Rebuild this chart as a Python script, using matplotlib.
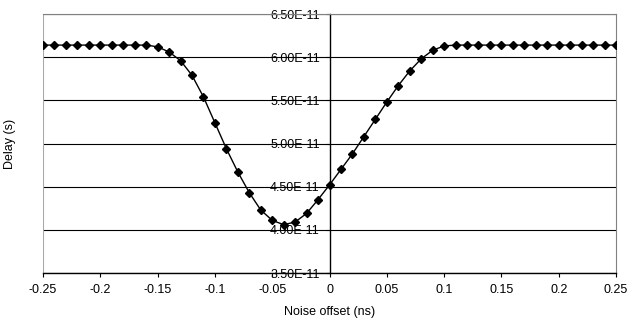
import matplotlib
matplotlib.use('Agg')
import matplotlib.pyplot as plt
from matplotlib.ticker import FuncFormatter, MultipleLocator

plt.rcParams['font.family'] = ['Liberation Sans', 'DejaVu Sans']

# noise offset (ns)
offset = [-0.25, -0.24, -0.23, -0.22, -0.21, -0.20, -0.19, -0.18, -0.17, -0.16,
          -0.15, -0.14, -0.13, -0.12, -0.11, -0.10, -0.09, -0.08, -0.07, -0.06,
          -0.05, -0.04, -0.03, -0.02, -0.01, 0.00,
          0.01, 0.02, 0.03, 0.04, 0.05, 0.06, 0.07, 0.08, 0.09, 0.10,
          0.11, 0.12, 0.13, 0.14, 0.15, 0.16, 0.17, 0.18, 0.19, 0.20,
          0.21, 0.22, 0.23, 0.24, 0.25]
# delay in units of 1e-11 s
delay = [6.14, 6.14, 6.14, 6.14, 6.14, 6.14, 6.14, 6.14, 6.14, 6.14,
         6.12, 6.06, 5.96, 5.79, 5.54, 5.24, 4.94, 4.67, 4.43, 4.23,
         4.11, 4.06, 4.09, 4.19, 4.35, 4.52,
         4.70, 4.88, 5.08, 5.28, 5.48, 5.67, 5.84, 5.98, 6.08, 6.13,
         6.14, 6.14, 6.14, 6.14, 6.14, 6.14, 6.14, 6.14, 6.14, 6.14,
         6.14, 6.14, 6.14, 6.14, 6.14]
delay = [d * 1e-11 for d in delay]

fig = plt.figure(figsize=(6.36, 3.22), dpi=100)
ax = fig.add_axes([43 / 636, 49 / 322, 573 / 636, 259 / 322])

ax.plot(offset, delay, color='black', lw=1.0, marker='D', markersize=4.5,
        markerfacecolor='black', markeredgecolor='black', zorder=3)

ax.set_xlim(-0.25, 0.25)
ax.set_ylim(3.5e-11, 6.5e-11)
ax.xaxis.set_major_locator(MultipleLocator(0.05))
ax.yaxis.set_major_locator(MultipleLocator(0.5e-11))
ax.xaxis.set_major_formatter(FuncFormatter(lambda v, p: ('%.2f' % v).rstrip('0').rstrip('.') if abs(v) > 1e-9 else '0'))
ax.yaxis.set_major_formatter(FuncFormatter(lambda v, p: '%.2E' % v))

# y axis sits at x = 0, grey frame around the plot
ax.spines['left'].set_position(('data', 0))
ax.spines['left'].set_color('black')
ax.spines['left'].set_linewidth(1.0)
ax.spines['bottom'].set_color('black')
ax.spines['bottom'].set_linewidth(1.0)
ax.spines['top'].set_color('#808080')
ax.spines['right'].set_color('#808080')
ax.axvline(-0.25, color='#a8a8a8', lw=1.5, zorder=2.5)

ax.yaxis.grid(True, color='black', lw=0.8)
ax.set_axisbelow(True)

ax.tick_params(axis='x', direction='out', length=3, width=0.8, pad=5, labelsize=9)
ax.tick_params(axis='y', direction='out', length=3, width=0.8, pad=4, labelsize=9)

ax.set_xlabel('Noise offset (ns)', fontsize=9, labelpad=7)
ax.text(-0.0575, 0.5, 'Delay (s)', transform=ax.transAxes, rotation=90,
        ha='center', va='center', fontsize=9)

fig.savefig('out.png', dpi=100)
